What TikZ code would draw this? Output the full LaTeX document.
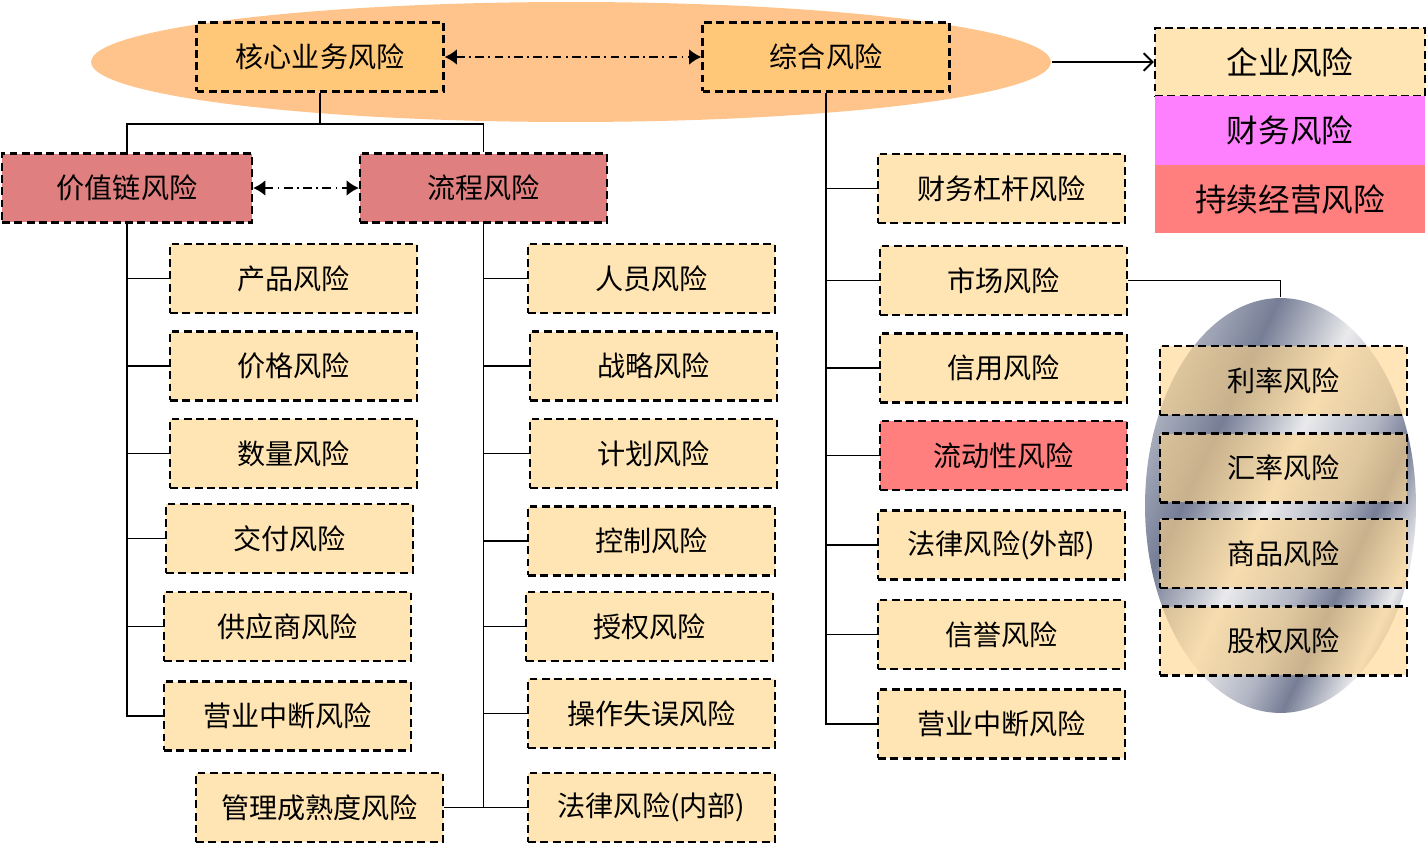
\documentclass[tikz,border=0pt]{standalone}
\usepackage{fontspec}
\setmainfont{Noto Sans CJK SC}
\usepackage{tikz}
\usetikzlibrary{positioning,shapes.geometric}
\usetikzlibrary{arrows.meta}
\definecolor{boxfill}{RGB}{255,229,180}
\definecolor{subfill}{RGB}{255,212,135}
\definecolor{corefill}{RGB}{255,200,120}
\definecolor{ovalfill}{RGB}{255,196,140}
\definecolor{chainfill}{RGB}{223,127,127}
\definecolor{liqfill}{RGB}{255,127,127}
\definecolor{finfill}{RGB}{255,128,255}
\definecolor{mgray}{RGB}{178,182,196}
\definecolor{mdark}{RGB}{118,126,150}
\definecolor{mlight}{RGB}{234,234,236}
\pgfdeclarehorizontalshading{metal}{100bp}{color(0bp)=(mgray); color(25bp)=(mgray);
  color(36bp)=(mdark); color(48bp)=(mlight); color(58bp)=(mgray); color(64bp)=(mdark);
  color(72bp)=(mlight); color(75bp)=(mgray); color(100bp)=(mdark)}

\begin{document}
\begin{tikzpicture}[x=0.02cm,y=-0.02cm,line width=1.1pt,
  rbox/.style={draw,line width=1.3pt,dash pattern=on 4.5pt off 2.5pt,fill=boxfill,
    minimum width=4.94cm,minimum height=1.38cm,font=\fontsize{16}{18}\selectfont},
  topbox/.style={rbox,fill=corefill},
  chainbox/.style={rbox,fill=chainfill,minimum width=5cm},
  subbox/.style={rbox,fill=subfill,fill opacity=0.6,text opacity=1},
  legbox/.style={minimum width=5.4cm,minimum height=1.37cm,font=\fontsize{18}{20}\selectfont},
  dd/.style={dash pattern=on 5pt off 2.5pt on 1pt off 2.5pt,
    {Latex[length=7pt,width=9pt]}-{Latex[length=7pt,width=9pt]}}]

  \useasboundingbox (0,0) rectangle (1427,844);

  % top oval
  \node[ellipse,fill=ovalfill,minimum width=19.2cm,minimum height=2.4cm] (oval) at (571,62) {};
  \node[topbox] (core) at (320,57) {核心业务风险};
  \node[topbox] (comp) at (826,57) {综合风险};
  \draw[dd] (core.east) -- (comp.west);

  % legend
  \node[legbox,draw,line width=1.3pt,dash pattern=on 4.5pt off 2.5pt,fill=boxfill] (firm) at (1290,62) {企业风险};
  \node[legbox,fill=finfill] (fin) at (1290,130.5) {财务风险};
  \node[legbox,fill=liqfill] (cont) at (1290,199) {持续经营风险};
  \draw[-{Straight Barb[length=5pt,width=10pt]}] (oval.east) -- (firm.west);

  % second level
  \node[chainbox] (vchain) at (127,188) {价值链风险};
  \node[chainbox,minimum width=4.94cm] (flow) at (483.5,188) {流程风险};
  \draw (core.south) -- ++(0,31) coordinate (split) -| (vchain.north);
  \draw (split) -| (flow.north);
  \draw[dd] (vchain.east) -- (flow.west);

  % value chain risks
  \node[rbox] (prod) at (293.5,278.5) {产品风险};
  \node[rbox] (price) at (293.5,366) {价格风险};
  \node[rbox] (qty) at (293.5,453.5) {数量风险};
  \node[rbox] (deliv) at (289.5,538.5) {交付风险};
  \node[rbox] (supp) at (287.5,626.5) {供应商风险};
  \node[rbox] (stopA) at (287.5,716) {营业中断风险};
  \draw (vchain.south) |- (prod.west);
  \draw (vchain.south) |- (price.west);
  \draw (vchain.south) |- (qty.west);
  \draw (vchain.south) |- (deliv.west);
  \draw (vchain.south) |- (supp.west);
  \draw (vchain.south) |- (stopA.west);

  % process risks
  \node[rbox] (staff) at (651.5,278.5) {人员风险};
  \node[rbox] (strat) at (653.5,366) {战略风险};
  \node[rbox] (plan) at (653.5,453.5) {计划风险};
  \node[rbox] (ctrl) at (651.5,541) {控制风险};
  \node[rbox] (auth) at (649.5,626.5) {授权风险};
  \node[rbox] (oper) at (651.5,713.5) {操作失误风险};
  \node[rbox] (lawin) at (651.5,807.5) {法律风险(内部)};
  \node[rbox] (mgmt) at (319.5,807.5) {管理成熟度风险};
  \draw (flow.south) |- (staff.west);
  \draw (flow.south) |- (strat.west);
  \draw (flow.south) |- (plan.west);
  \draw (flow.south) |- (ctrl.west);
  \draw (flow.south) |- (auth.west);
  \draw (flow.south) |- (oper.west);
  \draw (flow.south) |- (lawin.west);
  \draw (flow.south) |- (mgmt.east);

  % composite risks
  \node[rbox] (lever) at (1001.5,188.5) {财务杠杆风险};
  \node[rbox] (mkt) at (1003.5,280.5) {市场风险};
  \node[rbox] (credit) at (1003.5,368) {信用风险};
  \node[rbox,fill=liqfill] (liq) at (1003.5,455.5) {流动性风险};
  \node[rbox] (lawout) at (1001.5,545) {法律风险(外部)};
  \node[rbox] (repu) at (1001.5,634.5) {信誉风险};
  \node[rbox] (stopB) at (1001.5,724) {营业中断风险};
  \draw (comp.south) |- (lever.west);
  \draw (comp.south) |- (mkt.west);
  \draw (comp.south) |- (credit.west);
  \draw (comp.south) |- (liq.west);
  \draw (comp.south) |- (lawout.west);
  \draw (comp.south) |- (repu.west);
  \draw (comp.south) |- (stopB.west);

  % market risks
  \node[ellipse,shading=metal,shading angle=-25,minimum width=5.42cm,minimum height=8.3cm] (metal) at (1280.5,505.5) {};
  \draw (mkt.east) -| (metal.north);
  \node[subbox] (rate) at (1283.5,380.5) {利率风险};
  \node[subbox] (fx) at (1283.5,468) {汇率风险};
  \node[subbox] (goods) at (1283.5,553.5) {商品风险};
  \node[subbox] (equity) at (1283.5,641) {股权风险};
\end{tikzpicture}
\end{document}
